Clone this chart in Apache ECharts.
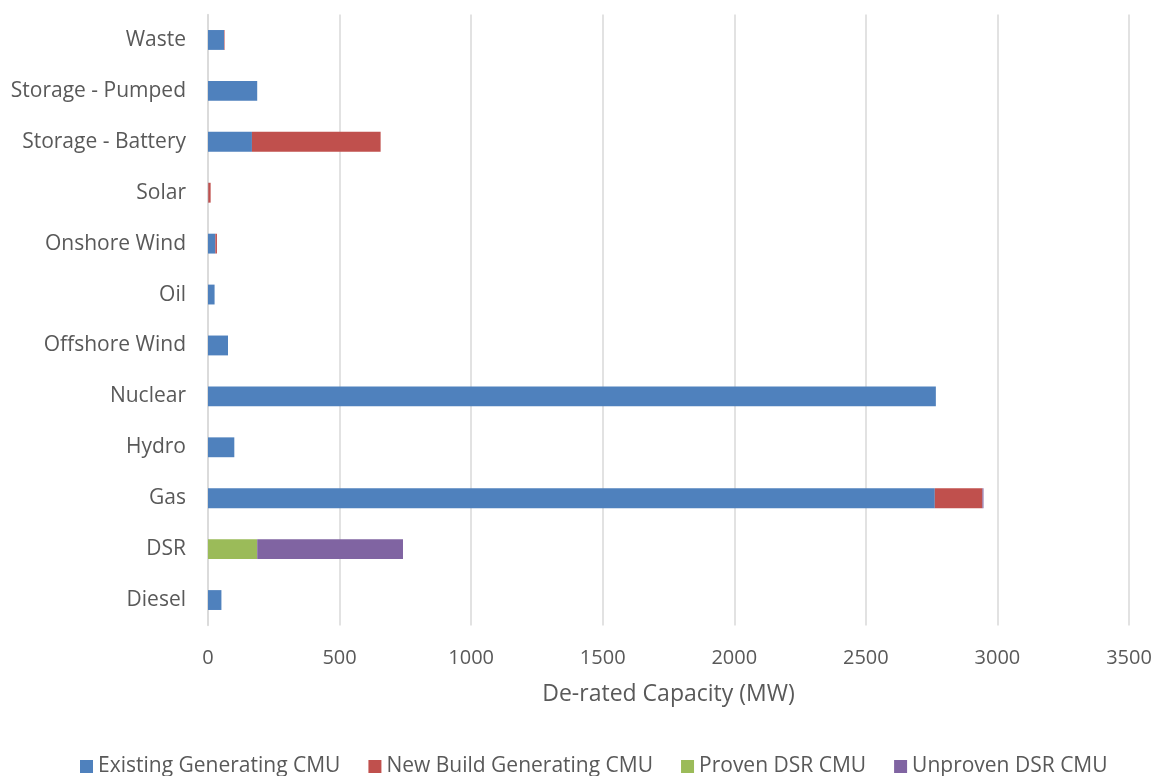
<!DOCTYPE html>
<html>
<head>
<meta charset="utf-8">
<script src="https://cdn.jsdelivr.net/npm/echarts@6/dist/echarts.min.js"></script>
<style>
  html, body { margin: 0; padding: 0; background: #fff; }
  #chart { width: 1156px; height: 776px; }
</style>
</head>
<body>
<div id="chart"></div>
<script>
// Technology types, bottom to top
const categories = ['Diesel', 'DSR', 'Gas', 'Hydro', 'Nuclear', 'Offshore Wind', 'Oil',
  'Onshore Wind', 'Solar', 'Storage - Battery', 'Storage - Pumped', 'Waste'];

// De-rated capacity (MW) per CMU type
const existingGen = [51, 0, 2762, 100, 2766, 76, 25, 28, 1, 167, 187, 61];
const newBuildGen = [0, 0, 181, 0, 0, 0, 0, 6, 9, 489, 0, 2];
const provenDSR   = [0, 187, 0, 0, 0, 0, 0, 0, 0, 0, 0, 0];
const unprovenDSR = [0, 554, 4, 0, 0, 0, 0, 0, 0, 0, 0, 0];

const xTicks = { min: 0, max: 3500, interval: 500 };

const font = '"Open Sans", "Noto Sans", sans-serif';
const textColor = '#595959';

function series(name, data, color) {
  return {
    name, type: 'bar', stack: 'total', data,
    barWidth: '39%',
    itemStyle: { color },
    emphasis: { disabled: true }
  };
}

const chart = echarts.init(document.getElementById('chart'), null, { renderer: 'canvas' });
chart.setOption({
  animation: false,
  backgroundColor: '#fff',
  grid: { left: 208, right: 27, top: 14.5, bottom: 150.5, containLabel: false },
  xAxis: {
    type: 'value', min: xTicks.min, max: xTicks.max, interval: xTicks.interval,
    name: 'De-rated Capacity (MW)', nameLocation: 'middle', nameGap: 57,
    nameTextStyle: { fontFamily: font, fontSize: 23, color: textColor },
    axisLabel: { fontFamily: font, fontSize: 20, color: textColor, margin: 23,
      formatter: v => String(v) },
    axisLine: { show: false }, axisTick: { show: false },
    splitLine: { lineStyle: { color: '#d9d9d9', width: 1.5 } }
  },
  yAxis: {
    type: 'category', data: categories,
    axisLabel: { fontFamily: font, fontSize: 21, color: textColor, margin: 22 },
    axisLine: { show: true, lineStyle: { color: '#d9d9d9', width: 1.5 } },
    axisTick: { show: false }
  },
  legend: {
    bottom: -6, left: 75, itemWidth: 13, itemHeight: 13, itemGap: 28,
    icon: 'rect',
    textStyle: { fontFamily: font, fontSize: 21, color: textColor },
    data: ['Existing Generating CMU', 'New Build Generating CMU', 'Proven DSR CMU', 'Unproven DSR CMU']
  },
  series: [
    series('Existing Generating CMU', existingGen, '#4f81bd'),
    series('New Build Generating CMU', newBuildGen, '#c0504d'),
    series('Proven DSR CMU', provenDSR, '#9bbb59'),
    series('Unproven DSR CMU', unprovenDSR, '#8064a2')
  ]
});
</script>
</body>
</html>
